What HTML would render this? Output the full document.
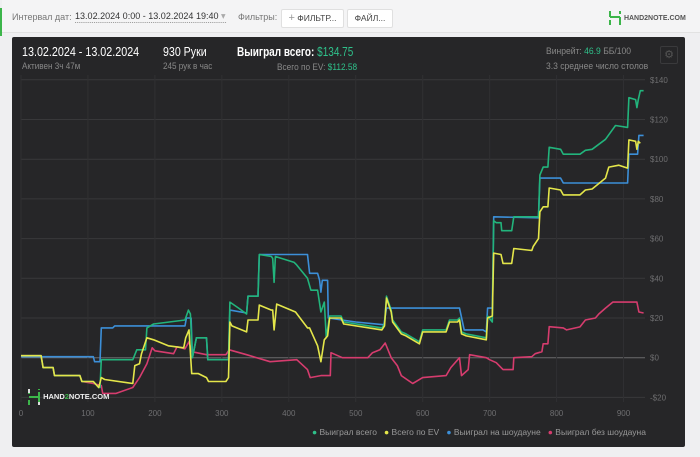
<!DOCTYPE html>
<html><head><meta charset="utf-8">
<style>
body{margin:0;width:700px;height:457px;background:#efeff1;font-family:"Liberation Sans",sans-serif;position:relative;overflow:hidden}
.abs{position:absolute;white-space:nowrap}
.g{color:#2fc08a}
.sq{transform-origin:0 0}
</style></head><body>
<div class="abs" style="left:0;width:2px;height:28px;background:#3cb54a;top:8px"></div>
<div class="abs" style="left:2px;top:0;width:698px;height:32px;background:#f4f4f5;border-bottom:1px solid #e2e2e2"></div>
<div class="abs" style="left:12px;top:12px;font-size:9px;color:#777">Интервал дат:</div>
<div class="abs sq" style="left:75px;top:11px;font-size:9.5px;color:#333;border-bottom:1px dotted #999;transform:scaleX(0.95)">13.02.2024 0:00 - 13.02.2024 19:40 <span style="color:#aaa">▾</span></div>
<div class="abs" style="left:238px;top:12px;font-size:9px;color:#777">Фильтры:</div>
<div class="abs" style="left:281px;top:9px;width:61px;height:17px;background:#fff;border:1px solid #e0e0e0;border-radius:2px;font-size:8.5px;color:#444;line-height:17px;text-align:center"><span style="color:#999;font-size:11px">+</span> ФИЛЬТР...</div>
<div class="abs" style="left:347px;top:9px;width:44px;height:17px;background:#fff;border:1px solid #e0e0e0;border-radius:2px;font-size:8.5px;color:#444;line-height:17px;text-align:center">ФАЙЛ...</div>
<div class="abs" style="left:608px;top:10px;font-size:7px;font-weight:bold;color:#555">
<svg width="14" height="16" style="vertical-align:middle"><path d="M2 1v6M2 7h10M12 7v8M2 10v5M12 1v3" stroke="#3cb54a" stroke-width="2" fill="none"/></svg> HAND2NOTE.COM</div>

<div class="abs" style="left:12px;top:37px;width:673px;height:410px;background:#262628;border-radius:2px"></div>
<div class="abs sq" style="left:22px;top:45px;font-size:12.5px;color:#fff;transform:scaleX(0.86)">13.02.2024 - 13.02.2024</div>
<div class="abs sq" style="left:22px;top:61px;font-size:9px;color:#888;transform:scaleX(0.9)">Активен 3ч 47м</div>
<div class="abs sq" style="left:163px;top:45px;font-size:12.5px;color:#fff;transform:scaleX(0.85)">930 Руки</div>
<div class="abs sq" style="left:163px;top:61px;font-size:9px;color:#888;transform:scaleX(0.9)">245 рук в час</div>
<div class="abs sq" style="left:237px;top:45px;font-size:12.5px;color:#fff;font-weight:bold;transform:scaleX(0.8)">Выиграл всего: <span class="g" style="font-weight:normal">$134.75</span></div>
<div class="abs sq" style="left:277px;top:62px;font-size:9px;color:#888;transform:scaleX(0.92)">Всего по EV: <span class="g">$112.58</span></div>
<div class="abs sq" style="left:546px;top:46px;font-size:9px;color:#888;transform:scaleX(0.95)">Винрейт: <span class="g">46.9</span> ББ/100</div>
<div class="abs sq" style="left:546px;top:61px;font-size:9px;color:#888;transform:scaleX(0.95)">3.3 среднее число столов</div>
<div class="abs" style="left:660px;top:46px;width:16px;height:16px;border:1px solid #3a3a3c;border-radius:2px;color:#555;font-size:11px;text-align:center;line-height:16px">⚙</div>

<svg class="abs" id="chart" style="left:0;top:0" width="700" height="457"></svg>

<div class="abs" style="left:27px;top:388px;font-size:7.5px;font-weight:bold;color:#eee">
<svg width="14" height="18" style="vertical-align:middle"><path d="M2 1v5M2 9h10M12 4v12M2 12v5M12 1v1" stroke="#3cb54a" stroke-width="2" fill="none"/><path d="M2 1v4M12 14v3" stroke="#ddd" stroke-width="2"/></svg> HAND<span style="color:#3cb54a">2</span>NOTE.COM</div>

<div class="abs" style="left:312px;top:427px;font-size:8.5px;color:#999">
<span><span style="color:#2fc08a">●</span> Выиграл всего</span>&nbsp;&nbsp;
<span><span style="color:#e4e64a">●</span> Всего по EV</span>&nbsp;&nbsp;
<span><span style="color:#3c8fd8">●</span> Выиграл на шоудауне</span>&nbsp;&nbsp;
<span><span style="color:#d63c6e">●</span> Выиграл без шоудауна</span></div>

<script>
const xTicks=[0,100,200,300,400,500,600,700,800,900];
const yTicks=[-20,0,20,40,60,80,100,120,140];
const yTickLabels=["-$20","$0","$20","$40","$60","$80","$100","$120","$140"];
const totalHands=[0,30,33,48,50,88,91,108,116,118,120,167,173,186,188,198,245,250,253,256,262,277,279,306,310,312,325,337,339,354,356,374,376,378,380,408,411,428,433,443,448,453,456,461,478,482,539,543,546,553,555,568,575,595,600,635,640,652,655,658,665,695,697,704,706,710,717,718,733,736,773,775,780,787,789,806,810,835,843,853,873,888,906,908,918,920,922,925,930];
const totalVals=[1,1,-5,-5,-9,-9,-12,-12,-15,-15,-1,-1,4,4,15,17,19,24,22,0,10,10,-1,-1,-1,28,25,22,31,31,52,51,50,38,51,48,47,40,34,34,23,28,10,21,21,18,15,17,31,24,19,13,12,8,14,14,19,19,20,13,12,10,21,18,69,68,68,64,64,71,71,92,96,96,106,105,102.5,102.5,104.5,105,110,117,116,131,130,126,130,134.5,134.5];
const evHands=[0,30,33,48,50,88,91,108,116,120,125,167,170,177,180,188,198,220,243,246,251,255,265,277,280,306,310,312,315,337,339,354,356,374,376,378,382,410,428,431,443,448,453,458,461,478,482,539,543,546,553,555,568,575,595,600,635,640,652,655,658,665,695,697,704,706,717,720,733,736,763,765,773,775,780,787,789,806,810,835,843,853,873,878,893,906,908,918,920,922,925];
const evVals=[1,1,-5,-5,-9,-9,-12,-12,-15,-10,-11,-13,-4,-3,2,10,9,6,5,10,14,-8,-8,-10,-12,-12,-10,18,16,13,19,19,26.5,24,24,14,27,23,15,15,6,-2,9,11,20,20,17,14,16,30,23,18,12,11,7,13,13,18,18,19,12,11,9,20,21,52.7,52,47.5,47.5,55,54,56,60,73.5,76,76,85.5,84.5,82,82,84.5,85,90.5,96,97,95.5,109.7,109,105,109,108];
const sdHands=[0,108,110,118,120,137,140,245,247,254,256,262,277,279,306,310,312,337,339,354,356,428,431,443,446,448,450,458,459,500,542,546,655,662,690,695,697,704,706,773,775,806,810,906,908,921,923,930];
const sdVals=[0.5,0.5,-2,-2,15,15,16,16,20,20,0,10,10,-1,-1,-1,24,22.5,31,31,52,52,42.5,42.5,39,33,39,39,20,18,16.6,25,25,14,14,13,25,25,71,70.5,90.5,90.5,88,88,102.5,102.5,112,112];
const nsdHands=[0,30,33,48,50,88,91,108,120,122,142,167,177,188,196,200,228,233,245,251,255,277,306,311,337,372,412,428,432,448,462,463,480,518,525,536,544,553,562,568,585,600,635,642,655,658,668,670,695,700,710,720,735,736,763,768,778,780,787,789,810,815,835,843,858,863,873,884,920,923,930];
const nsdVals=[1,1,-5,-5,-9,-9,-12,-13,-14,-18,-18,-15,-10,-3,5,3.5,2,5.5,4.5,8,3,1.5,1.5,4,1.5,-2,-1,-6,-10,-9,-9,2.5,0,0,2.5,4,7.4,0,-4,-9,-13,-10,-9,-5,0,-9,-6,1.5,0,-1,-2.5,-6,-6,0,0.5,2,3,7,7,15.6,15,14,15.5,19,20,22,25,28,28,23,22.5];

const svg=document.getElementById('chart');
const NS='http://www.w3.org/2000/svg';
const X0=21,X1=645;
function xs(h){return 21+h*0.6695;}
function ys(v){return 357.7-v*1.985;}
function mk(tag,attrs){const e=document.createElementNS(NS,tag);for(const k in attrs)e.setAttribute(k,attrs[k]);svg.appendChild(e);return e;}
yTicks.forEach((t,i)=>{
  const l=mk('line',{x1:X0,x2:X1,y1:ys(t),y2:ys(t),stroke:t===0?'#6a6a6c':'#38383a','stroke-width':1});
  
  
  const tx=mk('text',{x:650,y:ys(t)+3,fill:'#6e6e70','font-size':8,'font-family':'Liberation Sans, sans-serif'});
  tx.textContent=yTickLabels[i];
  
  
});
xTicks.forEach(t=>{
  const l=mk('line',{x1:xs(t),x2:xs(t),y1:75,y2:402,stroke:'#303032','stroke-width':1});
  
  
  const tx=mk('text',{x:xs(t),y:416,fill:'#6e6e70','font-size':8,'text-anchor':'middle','font-family':'Liberation Sans, sans-serif'});
  tx.textContent=t;
  
  
});
function line(hs,vs,color,name){
  const p=mk('polyline',{points:hs.map((h,i)=>xs(h).toFixed(1)+','+ys(vs[i]).toFixed(1)).join(' '),fill:'none',stroke:color,'stroke-width':1.6,'stroke-linejoin':'round'});
  
  
}
line(sdHands,sdVals,'#3c8fd8','showdown-line');
line(nsdHands,nsdVals,'#d63c6e','non-showdown-line');
line(totalHands,totalVals,'#22b47c','total-won-line');
line(evHands,evVals,'#e4e64a','ev-line');
</script>
</body></html>
